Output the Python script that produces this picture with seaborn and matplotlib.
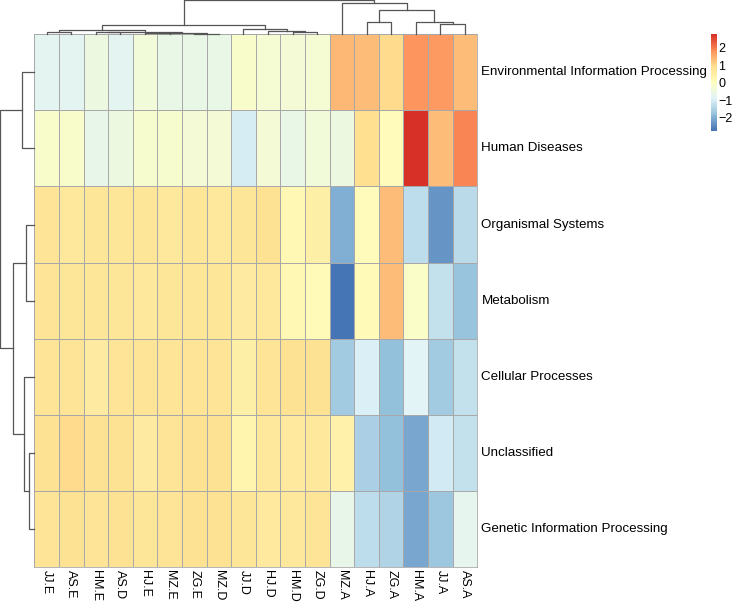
import numpy as np
import pandas as pd
import matplotlib
matplotlib.use("Agg")
import matplotlib.pyplot as plt
import seaborn as sns
from matplotlib.colors import LinearSegmentedColormap

plt.rcParams['font.family'] = ['Liberation Sans', 'DejaVu Sans']

# column / row order as shown (already clustered)
samples = ["JJ.E", "AS.E", "HM.E", "AS.D", "HJ.E", "MZ.E", "ZG.E", "MZ.D", "JJ.D",
           "HJ.D", "HM.D", "ZG.D", "MZ.A", "HJ.A", "ZG.A", "HM.A", "JJ.A", "AS.A"]
pathways = ["Environmental Information Processing", "Human Diseases", "Organismal Systems",
            "Metabolism", "Cellular Processes", "Unclassified", "Genetic Information Processing"]

env_info = [-0.8, -0.8, -0.5, -0.8, -0.4, -0.6, -0.6, -0.6, -0.2, -0.3, -0.35, -0.3,
            1.35, 1.3, 1.0, 1.75, 1.7, 1.3]
human_dis = [-0.2, -0.2, -0.65, -0.5, -0.25, -0.25, -0.35, -0.35, -1.0, -0.35, -0.6, -0.4,
             -0.5, 0.95, 0.1, 2.78, 1.3, 1.9]
organismal = [0.8, 0.7, 0.75, 0.75, 0.75, 0.7, 0.75, 0.7, 0.75, 0.85, 0.2, 0.5,
              -2.0, 0.1, 1.3, -1.3, -2.3, -1.35]
metabolism = [0.8, 0.75, 0.75, 0.75, 0.7, 0.75, 0.75, 0.75, 0.6, 0.7, 0.2, 0.15,
              -2.74, 0.15, 1.3, -0.1, -1.2, -1.7]
cellular = [0.8, 0.8, 0.6, 0.8, 0.8, 0.8, 0.8, 0.8, 0.5, 0.8, 0.85, 0.9,
            -1.6, -0.95, -1.75, -0.85, -1.6, -1.2]
unclassified = [0.85, 1.0, 0.85, 0.9, 0.6, 0.8, 0.85, 0.9, 0.35, 0.7, 0.65, 0.7,
                0.45, -1.5, -1.75, -2.1, -1.05, -1.2]
genetic = [0.8, 0.85, 0.8, 0.85, 0.75, 0.8, 0.85, 0.85, 0.75, 0.65, 0.7, 0.8,
           -0.65, -1.3, -1.45, -2.1, -1.65, -0.75]

# dendrogram merges (child_a, child_b, height), leaves numbered in display order
col_merges = [(0, 1, 0.06), (2, 3, 0.07), (4, 5, 0.04), (6, 7, 0.02), (20, 21, 0.05),
              (19, 22, 0.08), (18, 23, 0.12), (10, 11, 0.058), (9, 25, 0.105), (8, 26, 0.155),
              (24, 27, 0.27), (13, 14, 0.35), (16, 17, 0.29), (15, 30, 0.37), (29, 31, 0.71),
              (12, 32, 0.90), (28, 33, 1.0)]
row_merges = [(0, 1, 0.36), (2, 3, 0.23), (5, 6, 0.16), (4, 9, 0.30), (8, 10, 0.61), (7, 11, 1.0)]

df = pd.DataFrame([env_info, human_dis, organismal, metabolism, cellular, unclassified, genetic],
                  index=pathways, columns=samples)

cmap = LinearSegmentedColormap.from_list(
    "rdylbu_rev", ["#4575B4", "#91BFDB", "#E0F3F8", "#FFFFBF", "#FEE090", "#FC8D59", "#D73027"], N=100)


def dendro_segments(merges, n_leaves):
    pos = {i: i + 0.5 for i in range(n_leaves)}
    hgt = {i: 0.0 for i in range(n_leaves)}
    segs = []
    for k, (a, b, h) in enumerate(merges):
        node = n_leaves + k
        segs.append(([pos[a], pos[a], pos[b], pos[b]], [hgt[a], h, h, hgt[b]]))
        pos[node] = (pos[a] + pos[b]) / 2
        hgt[node] = h
    return segs


W, H = 734, 602
fig = plt.figure(figsize=(W / 100, H / 100), dpi=100)
hx0, hx1, hy0, hy1 = 34.3, 477.3, 34.3, 567.0
ax = fig.add_axes([hx0 / W, 1 - hy1 / H, (hx1 - hx0) / W, (hy1 - hy0) / H])
ax_top = fig.add_axes([hx0 / W, 1 - hy0 / H, (hx1 - hx0) / W, hy0 / H])
ax_left = fig.add_axes([0, 1 - hy1 / H, hx0 / W, (hy1 - hy0) / H])
cax = fig.add_axes([711 / W, 1 - 131 / H, 6 / W, 97 / H])

sns.heatmap(df, ax=ax, cmap=cmap, vmin=-2.74, vmax=2.78, linewidths=0.6, linecolor="#A8A8A8",
            cbar_ax=cax, cbar_kws={"ticks": [-2, -1, 0, 1, 2]})
ax.set_xlabel("")
ax.set_ylabel("")
ax.yaxis.tick_right()
ax.set_yticklabels(pathways, rotation=0, ha="left", va="center", fontsize=9.6)
ax.set_xticklabels(samples, rotation=270, ha="center", va="top", fontsize=9.0)
ax.tick_params(axis="both", length=0)
ax.tick_params(axis="y", pad=3)
ax.tick_params(axis="x", pad=2.5)
for sp in ax.spines.values():
    sp.set_visible(True)
    sp.set_color("#A8A8A8")
    sp.set_linewidth(0.6)

cb = ax.collections[0].colorbar
cb.outline.set_visible(False)
cb.ax.tick_params(length=0, labelsize=9, pad=1)

for xs, ys in dendro_segments(col_merges, len(samples)):
    ax_top.plot(xs, ys, color="#555555", lw=0.9, clip_on=False)
ax_top.set_xlim(0, len(samples))
ax_top.set_ylim(0, 1.0)
ax_top.axis("off")

for ys, xs in dendro_segments(row_merges, len(pathways)):
    ax_left.plot(xs, ys, color="#555555", lw=0.9, clip_on=False)
ax_left.set_ylim(len(pathways), 0)
ax_left.set_xlim(1.0, 0)
ax_left.axis("off")

fig.savefig("out.png", dpi=100)
